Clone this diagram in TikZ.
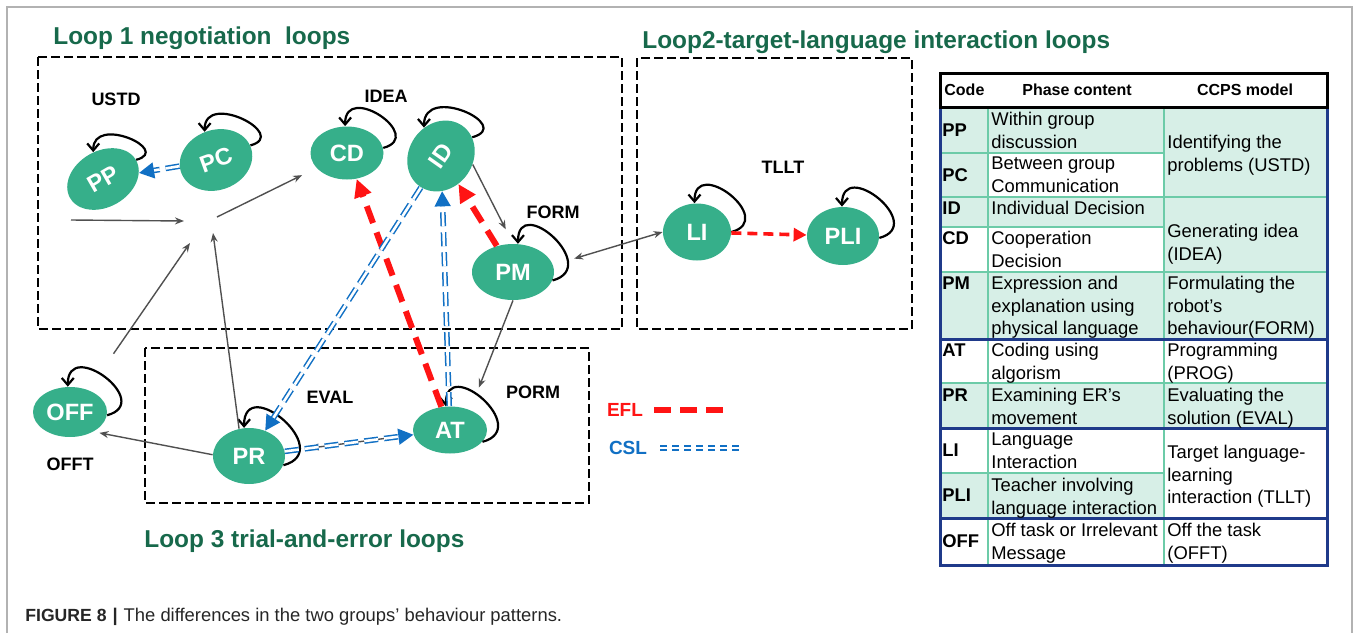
\documentclass[tikz,border=0pt]{standalone}
\usepackage{fontspec}
\setmainfont{Liberation Sans}
\usepackage{tikz}
\usetikzlibrary{shapes,arrows.meta,calc}
\definecolor{stategreen}{HTML}{36AF8A}
\definecolor{titlegreen}{HTML}{17694B}
\definecolor{cslblue}{HTML}{1170C4}
\definecolor{eflred}{HTML}{FF1414}
\definecolor{cellfill}{HTML}{D7EFE7}
\definecolor{cellline}{HTML}{6CCBA8}
\definecolor{navyline}{HTML}{1F3A8A}
\definecolor{flowgray}{HTML}{505050}
\newcommand{\cellrows}[1]{\begin{tabular}[t]{@{}l@{}}#1\end{tabular}}
\tikzset{state/.style={
    ellipse,
    fill=stategreen,
    text=white,
    inner sep=0pt,
    font=\fontsize{11.8}{12}\selectfont\bfseries},
  lbl/.style={
    font=\fontsize{9}{10}\selectfont\bfseries},
  looptitle/.style={
    anchor=base west,
    inner sep=0pt,
    text=titlegreen,
    font=\fontsize{12.2}{14}\selectfont\bfseries},
  loopbox/.style={
    draw=black,
    line width=1.2pt,
    dash pattern=on 4.5pt off 2pt},
  selfloop/.style={
    draw=black,
    line width=1.1pt,
    out=15, in=90, looseness=2.6,
    -{Straight Barb[length=3.5pt,width=6pt]}},
  flow/.style={
    draw=flowgray,
    line width=0.7pt,
    -{Stealth[length=4.5pt,width=3.5pt]}},
  efl/.style={
    draw=eflred,
    line width=3pt,
    dash pattern=on 9pt off 5pt,
    -{Triangle[length=9pt,width=8.5pt]}},
  csl/.style={
    draw=cslblue,
    double=white,
    double distance=1.3pt,
    line width=0.75pt,
    dash pattern=on 7pt off 3pt,
    -{Triangle[length=7.5pt,width=8pt]}},
  legendtext/.style={
    inner sep=0pt,
    font=\fontsize{9.5}{10}\selectfont\bfseries},
  cellrule/.style={
    draw=cellline,
    line width=0.8pt},
  navyrule/.style={
    draw=navyline,
    line width=1.5pt},
  headtext/.style={
    inner sep=0pt,
    font=\fontsize{8}{10}\selectfont\bfseries},
  codetext/.style={
    anchor=base west,
    inner sep=0pt,
    font=\fontsize{9.2}{11.25}\selectfont\bfseries},
  celltext/.style={
    anchor=base west,
    inner sep=0pt,
    font=\fontsize{9.2}{11.25}\selectfont}}

\begin{document}
\begin{tikzpicture}[x=0.5pt, y=0.5pt]
\useasboundingbox (0,0) rectangle (1356,-633);
\draw[gray!60, line width=0.7pt] (7,-633) -- (7,-7) -- (1352,-7) -- (1352,-633);

% loop frames and titles
\node[looptitle] (title1) at (53,-44) {Loop 1 negotiation\ \ loops};
\node[looptitle] (title2) at (642,-48) {Loop2-target-language interaction loops};
\node[looptitle] (title3) at (144,-547) {Loop 3 trial-and-error loops};
\draw[loopbox] (38,-57) rectangle (622,-329);
\draw[loopbox] (637,-58) rectangle (912,-329);
\draw[loopbox] (145,-348) rectangle (589,-503);

% states
\node[state,
  minimum width=38pt,
  minimum height=28pt,
  rotate=30] (pp) at (103,-179) {PP};
\node[state,
  minimum width=37pt,
  minimum height=30pt,
  rotate=20] (pc) at (216,-160) {PC};
\node[state,
  minimum width=36.5pt,
  minimum height=26.5pt] (cd) at (347,-153) {CD};
\node[state,
  minimum width=37pt,
  minimum height=32pt,
  rotate=55] (id) at (441,-156) {ID};
\node[state,
  minimum width=41pt,
  minimum height=28pt] (pm) at (513,-272) {PM};
\node[state,
  minimum width=34pt,
  minimum height=28.5pt] (li) at (697,-232) {LI};
\node[state,
  minimum width=36pt,
  minimum height=29pt] (pli) at (843,-236) {PLI};
\node[state,
  minimum width=37pt,
  minimum height=25pt] (off) at (70,-412) {OFF};
\node[state,
  minimum width=36pt,
  minimum height=28pt] (pr) at (249,-456) {PR};
\node[state,
  minimum width=37pt,
  minimum height=23.5pt] (at) at (450,-430) {AT};

% phase labels
\node[lbl] (ustd) at (116,-99) {USTD};
\node[lbl] (idea) at (386,-96) {IDEA};
\node[lbl] (form) at (553,-212) {FORM};
\node[lbl] (tllt) at (783,-167) {TLLT};
\node[lbl] (eval) at (330,-397) {EVAL};
\node[lbl] (porm) at (533,-392) {PORM};
\node[lbl] (offt) at (70,-464) {OFFT};

% self loops
\draw[selfloop, looseness=2.2] (pp.0) to (pp.80);
\draw[selfloop, looseness=2.2] (pc.3) to (pc.92);
\draw[selfloop] (cd.8) to (cd.94);
\draw[selfloop, looseness=2.3] (id.-24) to (id.66);
\draw[selfloop] (pm.-12) to (pm.80);
\draw[selfloop] (at.-20) to (at.100);
\draw[selfloop] (pr.-15) to (pr.100);
\draw[selfloop] (li.0) to (li.95);
\draw[selfloop] (pli.-3) to (pli.92);
\draw[selfloop] (off.-5) to (off.95);

% gray transitions
\coordinate (hubw) at (71,-220);
\coordinate (hubin) at (184,-221);
\coordinate (hubout) at (217,-217);
\coordinate (hubsw) at (190,-243);
\coordinate (hubs) at (213,-233);
\draw[flow] (hubw) -- (hubin);
\draw[flow, shorten >=8pt] (hubout) -- (cd);
\draw[flow, shorten <=22pt] (off.50) -- (hubsw);
\draw[flow] (pr.110) -- (hubs);
\draw[flow, shorten >=8pt] (id.-70) -- (pm.north);
\draw[flow, shorten >=12pt] (pm.south) -- (at.45);
\draw[flow, shorten <=10pt, shorten >=12.5pt] (at) -- (pr);
\draw[flow, shorten >=3pt] (pr.178) -- (off.-40);
\draw[flow, {Stealth[length=4.5pt,width=3.5pt]}-{Stealth[length=4.5pt,width=3.5pt]},
  shorten <=11pt] (pm.10) -- (li.west);

% EFL and CSL transitions
\draw[efl] (at) -- (cd);
\draw[efl] (pm) -- (id);
\draw[efl, line width=1.8pt, dash pattern=on 5pt off 3pt,
  -{Triangle[length=6.5pt,width=6.5pt]}] (li) -- (pli);
\draw[csl] (pc) -- (pp);
\draw[csl] (id) -- (pr);
\draw[csl] (at) -- (id);
\draw[csl] (pr) -- (at);

% legend
\node[legendtext, text=eflred] (eflkey) at (625,-410) {EFL};
\node[legendtext, text=cslblue] (cslkey) at (628,-448) {CSL};
\coordinate (eflend) at (724,-410);
\coordinate (cslend) at (740,-448);
\draw[eflred, line width=3.2pt, dash pattern=on 8.5pt off 4.5pt,
  shorten <=5.5pt] (eflkey.east) -- (eflend);
\draw[cslblue, double=white, double distance=1.2pt, line width=0.7pt,
  dash pattern=on 3.5pt off 2.5pt, shorten <=6.5pt] (cslkey.east) -- (cslend);

% code table
\fill[cellfill] (940,-107) rectangle (1164,-153);
\fill[cellfill] (940,-153) rectangle (988,-197);
\fill[cellfill] (940,-197) rectangle (1164,-227);
\fill[cellfill] (1164,-107) rectangle (1327,-272);
\fill[cellfill] (940,-272) rectangle (1327,-339);
\fill[cellfill] (940,-383) rectangle (1327,-428);
\fill[cellfill] (940,-473) rectangle (1164,-518);
\foreach \x in {988,1164}
  \draw[cellrule] (\x,-107) -- (\x,-565);
\foreach \y in {153,227,473}
  \draw[cellrule] (940,-\y) -- (1164,-\y);
\foreach \y in {197,272,383}
  \draw[cellrule] (940,-\y) -- (1327,-\y);
\draw[navyrule] (940,-107) rectangle (1327,-565);
\foreach \y in {339,428,518}
  \draw[navyrule] (940,-\y) -- (1327,-\y);
\draw[black, line width=1.5pt, fill=white] (940,-73) rectangle (1327,-107);

\node[headtext, anchor=base west] (hcode) at (944,-95) {Code};
\node[headtext, anchor=base] (hphase) at (1077,-95) {Phase content};
\node[headtext, anchor=base] (hmodel) at (1245,-95) {CCPS model};

\node[codetext] (cpp) at (942,-136.5) {PP};
\node[codetext] (cpc) at (942,-181.5) {PC};
\node[codetext] (cid) at (942,-214.5) {ID};
\node[codetext] (ccd) at (942,-244.5) {CD};
\node[codetext] (cpm) at (942,-289.5) {PM};
\node[codetext] (cat) at (942,-356.5) {AT};
\node[codetext] (cpr) at (942,-401.5) {PR};
\node[codetext] (cli) at (942,-456.5) {LI};
\node[codetext] (cpli) at (942,-501.5) {PLI};
\node[codetext] (coff) at (942,-547.5) {OFF};

\node[celltext] (ppp) at (991,-125.5) {\cellrows{Within group\\discussion}};
\node[celltext] (ppc) at (991,-169.5) {\cellrows{Between group\\Communication}};
\node[celltext] (pid) at (991,-214.5) {Individual Decision};
\node[celltext] (pcd) at (991,-244.5) {\cellrows{Cooperation\\Decision}};
\node[celltext] (ppm) at (991,-289.5) {\cellrows{Expression and\\explanation using\\physical language}};
\node[celltext] (pat) at (991,-356.5) {\cellrows{Coding using\\algorism}};
\node[celltext] (ppr) at (991,-401.5) {\cellrows{Examining ER’s\\movement}};
\node[celltext] (pli-text) at (991,-445.5) {\cellrows{Language\\Interaction}};
\node[celltext] (ppli) at (991,-491.5) {\cellrows{Teacher involving\\language interaction}};
\node[celltext] (poff) at (991,-536.5) {\cellrows{Off task or Irrelevant\\Message}};

\node[celltext] (mustd) at (1167,-148.5) {\cellrows{Identifying the\\problems (USTD)}};
\node[celltext] (midea) at (1167,-237.5) {\cellrows{Generating idea\\(IDEA)}};
\node[celltext] (mform) at (1167,-289.5) {\cellrows{Formulating the\\robot’s\\behaviour(FORM)}};
\node[celltext] (mprog) at (1167,-356.5) {\cellrows{Programming\\(PROG)}};
\node[celltext] (meval) at (1167,-401.5) {\cellrows{Evaluating the\\solution (EVAL)}};
\node[celltext] (mtllt) at (1167,-458.5) {\cellrows{Target language-\\learning\\interaction (TLLT)}};
\node[celltext] (mofft) at (1167,-536.5) {\cellrows{Off the task\\(OFFT)}};

% caption
\node[anchor=base west, inner sep=0pt, text=black!85,
  font=\fontsize{9.2}{11}\selectfont] (caption) at (25,-621)
  {{\fontsize{8.8}{11}\selectfont\bfseries FIGURE 8}\hspace{3pt}\textbf{|}\hspace{3pt}The differences in the two groups’ behaviour patterns.};
\end{tikzpicture}
\end{document}
